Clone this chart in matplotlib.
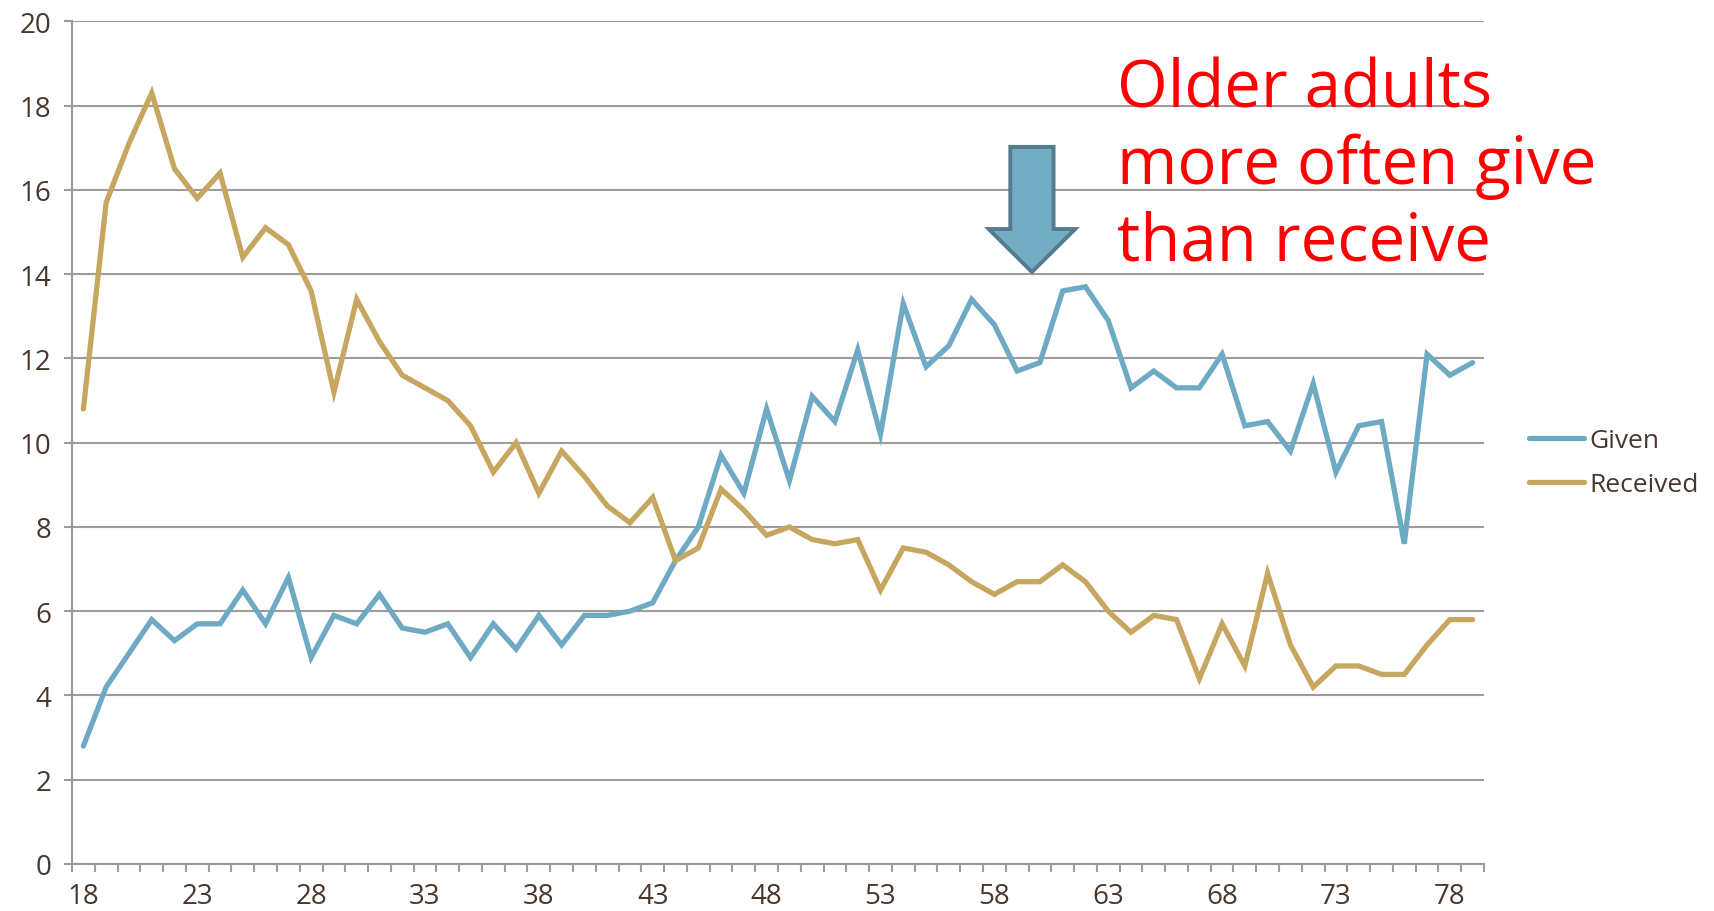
import matplotlib
matplotlib.use("Agg")
import matplotlib.pyplot as plt
from matplotlib.patches import FancyArrow

# age categories and the two series (percent)
ages = list(range(18, 80))
given = [2.8, 4.2, 5.0, 5.8, 5.3, 5.7, 5.7, 6.5, 5.7, 6.8,
         4.9, 5.9, 5.7, 6.4, 5.6, 5.5, 5.7, 4.9, 5.7, 5.1,
         5.9, 5.2, 5.9, 5.9, 6.0, 6.2, 7.2, 8.0, 9.7, 8.8,
         10.8, 9.1, 11.1, 10.5, 12.2, 10.2, 13.3, 11.8, 12.3, 13.4,
         12.8, 11.7, 11.9, 13.6, 13.7, 12.9, 11.3, 11.7, 11.3, 11.3,
         12.1, 10.4, 10.5, 9.8, 11.4, 9.3, 10.4, 10.5, 7.6, 12.1,
         11.6, 11.9]
received = [10.8, 15.7, 17.1, 18.3, 16.5, 15.8, 16.4, 14.4, 15.1, 14.7,
            13.6, 11.2, 13.4, 12.4, 11.6, 11.3, 11.0, 10.4, 9.3, 10.0,
            8.8, 9.8, 9.2, 8.5, 8.1, 8.7, 7.2, 7.5, 8.9, 8.4,
            7.8, 8.0, 7.7, 7.6, 7.7, 6.5, 7.5, 7.4, 7.1, 6.7,
            6.4, 6.7, 6.7, 7.1, 6.7, 6.0, 5.5, 5.9, 5.8, 4.4,
            5.7, 4.7, 6.9, 5.2, 4.2, 4.7, 4.7, 4.5, 4.5, 5.2,
            5.8, 5.8]
series_names = ["Given", "Received"]
note_lines = ["Older adults", "more often give", "than receive"]

blue = "#6FAAC4"
gold = "#C7A660"
grid_c = "#A19B97"
text_c = "#4A372C"

plt.rcParams["font.family"] = ["Open Sans", "DejaVu Sans"]

fig = plt.figure(figsize=(17.14, 9.12), dpi=100)
ax = fig.add_axes([72/1714, 1 - 865/912, (1484-72)/1714, (865-22.3)/912])

pos = list(range(len(ages)))
ax.plot(pos, given, color=blue, lw=3.8, label=series_names[0], solid_joinstyle="miter", solid_capstyle="round")
ax.plot(pos, received, color=gold, lw=3.8, label=series_names[1], solid_joinstyle="miter", solid_capstyle="round")

ax.set_xlim(-0.5, len(ages) - 0.5)
ax.set_ylim(0, 20)
ax.set_yticks(range(0, 21, 2))
ax.yaxis.grid(True, color=grid_c, lw=1.5)
ax.set_axisbelow(True)

ax.set_xticks(pos[::5])
ax.set_xticklabels([str(a) for a in ages[::5]])
ax.set_xticks([p - 0.5 for p in pos] + [pos[-1] + 0.5], minor=True)
ax.tick_params(axis="x", which="major", length=0, pad=13, labelsize=20, labelcolor=text_c)
ax.tick_params(axis="x", which="minor", length=6, width=1.5, color=grid_c, direction="out")
ax.tick_params(axis="y", length=6, width=1.5, color=grid_c, pad=9, labelsize=20, labelcolor=text_c)

for s in ["top", "right"]:
    ax.spines[s].set_visible(False)
for s in ["left", "bottom"]:
    ax.spines[s].set_color(grid_c)
    ax.spines[s].set_linewidth(1.5)

leg = ax.legend(loc="center left", bbox_to_anchor=(1529/1714, 1 - 464/912),
                bbox_transform=fig.transFigure, frameon=False, fontsize=19,
                handlelength=2.1, handletextpad=0.2, labelspacing=0.72,
                borderpad=0, borderaxespad=0)
for t in leg.get_texts():
    t.set_color(text_c)

# block arrow pointing down at the peak of giving
arrow = FancyArrow(41.65, 17.02, 0, -2.97, width=1.9, head_width=3.8, head_length=1.02,
                   length_includes_head=True, facecolor="#73ADC4", edgecolor="#547C8D",
                   lw=2.8, clip_on=False, zorder=5)
ax.add_patch(arrow)

for i, line in enumerate(note_lines):
    fig.text(1117/1714, 1 - (107 + i*77)/912, line, color="red", fontsize=47,
             ha="left", va="baseline")

fig.savefig("out.png", dpi=100)
